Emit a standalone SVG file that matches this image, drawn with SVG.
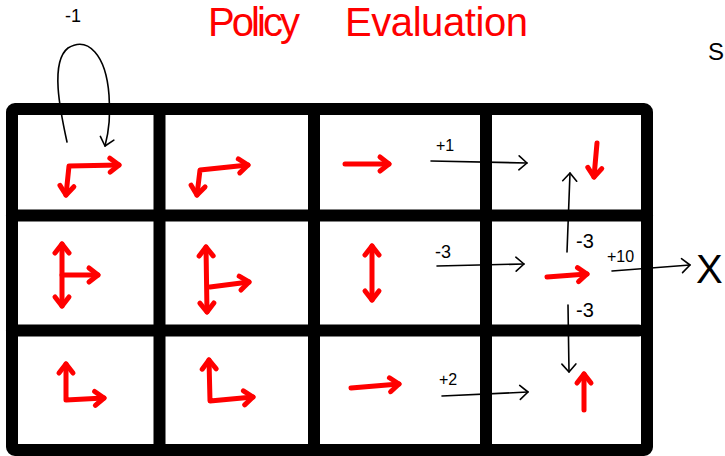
<svg xmlns="http://www.w3.org/2000/svg" width="725" height="456" viewBox="0 0 725 456">
<style>
.grid{fill:none;stroke:#000;stroke-width:12;stroke-linecap:round;stroke-linejoin:round}
.pol{fill:none;stroke:#ff0000;stroke-width:5;stroke-linecap:round;stroke-linejoin:round}
.con{fill:none;stroke:#000;stroke-width:1.6;stroke-linecap:round}
.lbl{font-family:"Liberation Sans",Arial,sans-serif;fill:#000}
.title{font-family:"Liberation Sans",Arial,sans-serif;fill:#ff0000;font-size:40px}
</style>
<defs>
<marker id="rh" markerUnits="userSpaceOnUse" markerWidth="24" markerHeight="24" refX="12" refY="12" orient="auto-start-reverse" overflow="visible">
<path d="M3,5 L12,12 L3,19" fill="none" stroke="#ff0000" stroke-width="5" stroke-linecap="round" stroke-linejoin="round"/>
</marker>
<marker id="bh" markerUnits="userSpaceOnUse" markerWidth="20" markerHeight="20" refX="10" refY="10" orient="auto" overflow="visible">
<path d="M2,3 L10,10 L2,17" fill="none" stroke="#000" stroke-width="1.6" stroke-linecap="round" stroke-linejoin="round"/>
</marker>
</defs>
<rect width="725" height="456" fill="#fff"/>

<text class="title"><tspan x="208" y="36" textLength="92">Policy</tspan><tspan x="345" y="36" textLength="183">Evaluation</tspan></text>
<text class="lbl" x="708" y="60" font-size="24">S</text>

<g id="grid">
<rect class="grid" x="12" y="109" width="635" height="341" rx="3"/>
<line class="grid" x1="159.5" y1="109" x2="159.5" y2="450"/>
<line class="grid" x1="314" y1="109" x2="314" y2="450"/>
<line class="grid" x1="486" y1="109" x2="486" y2="450"/>
<line class="grid" x1="12" y1="215.5" x2="647" y2="215.5"/>
<line class="grid" x1="12" y1="330.5" x2="639" y2="330.5"/>
</g>

<g id="cell-1-1"><path class="pol" d="M66,195 L69,166 L119,165" marker-start="url(#rh)" marker-end="url(#rh)"/></g>
<g id="cell-1-2"><path class="pol" d="M197,195 L200,170 L248,165" marker-start="url(#rh)" marker-end="url(#rh)"/></g>
<g id="cell-1-3"><path class="pol" d="M345,164 L389,164" marker-end="url(#rh)"/></g>
<g id="cell-1-4"><path class="pol" d="M597,143 L594,177" marker-end="url(#rh)"/></g>
<g id="cell-2-1"><path class="pol" d="M62,244 L62,306" marker-start="url(#rh)" marker-end="url(#rh)"/><path class="pol" d="M62,275 L98,275" marker-end="url(#rh)"/></g>
<g id="cell-2-2"><path class="pol" d="M206,247 L207,312" marker-start="url(#rh)" marker-end="url(#rh)"/><path class="pol" d="M210,287 L249,282" marker-end="url(#rh)"/></g>
<g id="cell-2-3"><path class="pol" d="M372,246 L372,300" marker-start="url(#rh)" marker-end="url(#rh)"/></g>
<g id="cell-2-4"><path class="pol" d="M547,277 L587,274" marker-end="url(#rh)"/></g>
<g id="cell-3-1"><path class="pol" d="M66,364 L66,400 L104,398" marker-start="url(#rh)" marker-end="url(#rh)"/></g>
<g id="cell-3-2"><path class="pol" d="M209,360 L210,401 L253,397" marker-start="url(#rh)" marker-end="url(#rh)"/></g>
<g id="cell-3-3"><path class="pol" d="M351,388 L399,384" marker-end="url(#rh)"/></g>
<g id="cell-3-4"><path class="pol" d="M584,410 L584,374" marker-end="url(#rh)"/></g>

<g id="connectors">
<path class="con" d="M67,142 C60,110 50,62 68,48 C88,36 106,55 109,95 C111,120 108,135 105,146" marker-end="url(#bh)"/>
<path class="con" d="M431,161 L527,163" marker-end="url(#bh)"/>
<path class="con" d="M567,252 L570,173" marker-end="url(#bh)"/>
<path class="con" d="M437,266 L524,264" marker-end="url(#bh)"/>
<path class="con" d="M612,271 L690,265" marker-end="url(#bh)"/>
<path class="con" d="M568,305 L569,372" marker-end="url(#bh)"/>
<path class="con" d="M442,396 L528,392" marker-end="url(#bh)"/>
</g>

<g id="labels">
<text class="lbl" x="65" y="22" font-size="18">-1</text>
<text class="lbl" x="436" y="151" font-size="16">+1</text>
<text class="lbl" x="435" y="258" font-size="18">-3</text>
<text class="lbl" x="576" y="248" font-size="20">-3</text>
<text class="lbl" x="607" y="262" font-size="16">+10</text>
<text class="lbl" x="696" y="283" font-size="40">X</text>
<text class="lbl" x="576" y="317" font-size="20">-3</text>
<text class="lbl" x="439" y="385" font-size="16">+2</text>
</g>
</svg>
